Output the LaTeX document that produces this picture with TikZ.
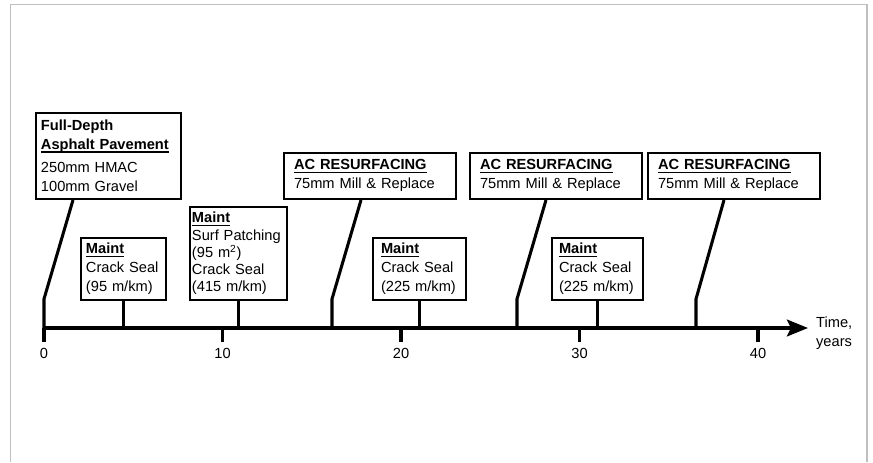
\documentclass[tikz,border=0pt]{standalone}
\usepackage{fontspec}
\setmainfont{Liberation Sans}
\usetikzlibrary{arrows.meta,calc,positioning}

% bold heading with a heavier underline
\newcommand{\ulhead}[1]{\leavevmode\setbox0\hbox{\textbf{#1}}\rlap{\rule[-3pt]{\wd0}{1.1pt}}\box0}

\begin{document}
\begin{tikzpicture}[x=0.03cm,y=0.03cm,
  evbox/.style={draw,line width=1.7pt,align=left,anchor=south west,
    inner ysep=4.5pt,font=\fontsize{12.5pt}{16.2pt}\selectfont},
  leader/.style={line width=2.6pt},
  axisline/.style={line width=3.4pt,-{Stealth[length=0.63cm,width=0.5cm,inset=0.12cm]}},
  lbl/.style={font=\fontsize{12.5pt}{16.2pt}\selectfont}]
  \useasboundingbox (0,0) rectangle (873,462);
  \draw[black!25,line width=1.3pt] (10.5,0) -- (10.5,457.5) -- (867,457.5) -- (867,0);

  % time axis
  \coordinate (e0) at (44,134);
  \coordinate (tip) at (808,134);
  \draw[axisline] (e0) -- (tip);
  \foreach \t in {0,10,20,30,40}
    \draw[leader] (44+17.85*\t,134) -- ++(0,-14) node[lbl,below=1pt] (y\t) {\t};
  \node[lbl,align=left,anchor=west] (time) at (812,128.5) {Time,\\years};

  % events
  \node[evbox,text width=4.05cm,inner xsep=0.15cm,inner ysep=6pt] (full) at (35,262)
    {\textbf{Full-Depth}\\\ulhead{Asphalt Pavement}\\[4pt]250mm HMAC\\100mm Gravel};
  \node[evbox,text width=4.56cm,inner xsep=0.3cm,inner ysep=6pt] (ac1) at (283,262)
    {\ulhead{AC RESURFACING}\\75mm Mill \& Replace};
  \node[evbox,text width=4.56cm,inner xsep=0.3cm,inner ysep=6pt] (ac2) at (469,262)
    {\ulhead{AC RESURFACING}\\75mm Mill \& Replace};
  \node[evbox,text width=4.56cm,inner xsep=0.3cm,inner ysep=6pt] (ac3) at (647,262)
    {\ulhead{AC RESURFACING}\\75mm Mill \& Replace};

  \node[evbox,text width=2.25cm,inner xsep=0.15cm] (m1) at (80,161)
    {\ulhead{Maint}\\Crack Seal\\(95 m/km)};
  \node[evbox,text width=2.79cm,inner xsep=0.06cm,font=\fontsize{12.5pt}{14.7pt}\selectfont] (m2) at (189,161)
    {\ulhead{Maint}\\Surf Patching\\(95 m\textsuperscript{2})\\Crack Seal\\(415 m/km)};
  \node[evbox,text width=2.31cm,inner xsep=0.24cm] (m3) at (372,161)
    {\ulhead{Maint}\\Crack Seal\\(225 m/km)};
  \node[evbox,text width=2.31cm,inner xsep=0.21cm] (m4) at (551,161)
    {\ulhead{Maint}\\Crack Seal\\(225 m/km)};

  % leaders down to the axis
  \coordinate (e1) at (332,134);
  \coordinate (e2) at (517,134);
  \coordinate (e3) at (696,134);
  \draw[leader] (e0) -- ++(0,29) -- ($(full.south west)+(38,0)$);
  \draw[leader] (e1) -- ++(0,29) -- ($(ac1.south west)+(78,0)$);
  \draw[leader] (e2) -- ++(0,29) -- ($(ac2.south west)+(77,0)$);
  \draw[leader] (e3) -- ++(0,29) -- ($(ac3.south west)+(77,0)$);
  \foreach \m in {m1,m2,m3,m4}
    \draw[leader] (\m.south) -- (\m.south |- e0);
\end{tikzpicture}
\end{document}
